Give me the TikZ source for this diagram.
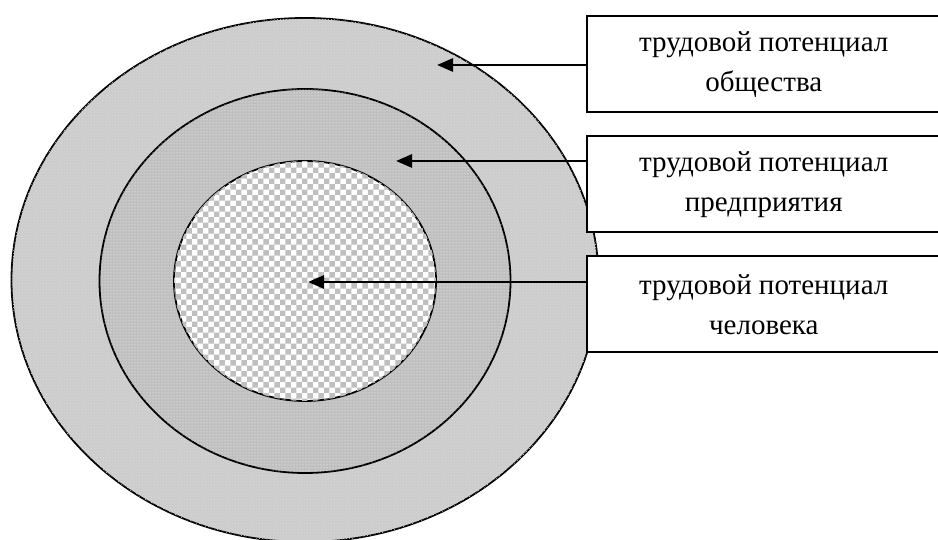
\documentclass[tikz,border=0pt]{standalone}
\usepackage{fontspec}
\setmainfont{Liberation Serif}
\usetikzlibrary{arrows.meta,patterns}

\begin{document}
\begin{tikzpicture}[x=1pt,y=1pt,
every node/.style={anchor=south west},
ring/.style={draw,line width=1.8pt},
society/.style={ring,fill=black!20,postaction={pattern=crosshatch dots,pattern color=white!85!black}},
firm/.style={ring,fill=black!25,postaction={pattern=dots,pattern color=white}},
person/.style={ring,fill=white,postaction={pattern=checkerboard,pattern color=black!25}},
label/.style={draw,fill=white,line width=1.5pt,minimum width=354pt,minimum height=96pt,
  align=center,font=\fontsize{29}{40}\selectfont},
pointer/.style={line width=2.8pt,-{Triangle[length=16pt,width=13pt]}},
]
\useasboundingbox (0,0) rectangle (938,540);
%\draw[help lines,step=50](0,0)grid(938,540);

% rings
\draw[society] (305,260) ellipse [x radius=293.5,y radius=262];
\draw[firm] (305,259) ellipse [x radius=205.5,y radius=192];
\draw[person] (305,259) ellipse [x radius=131,y radius=120];

\coordinate (tipSoc) at (437,475);
\coordinate (tipFirm) at (396,379);
\coordinate (tipMan) at (308,258);

% boxes
\node[label] (soc) at (586,427) {трудовой потенциал\\общества};
\node[label] (firm) at (586,307) {трудовой потенциал\\предприятия};
\node[label] (man) at (586,187) {трудовой потенциал\\человека};

\draw[pointer] (tipSoc -| soc.west) -- (tipSoc);
\draw[pointer] (tipFirm -| firm.west) -- (tipFirm);
\draw[pointer] (tipMan -| man.west) -- (tipMan);

\end{tikzpicture}
\end{document}
